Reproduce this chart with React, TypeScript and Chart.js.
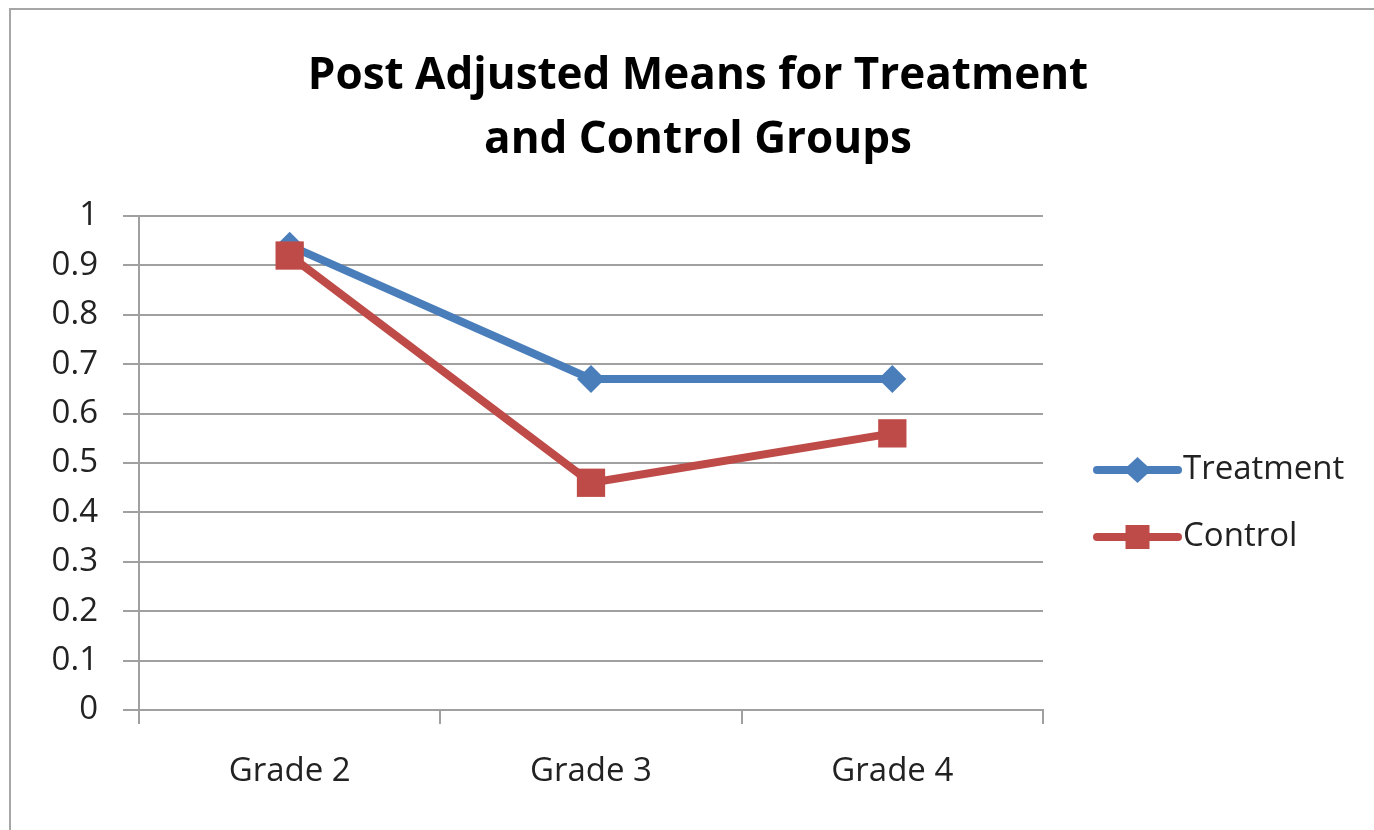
import React, { useEffect, useRef } from 'react';
import { Chart, registerables } from 'chart.js';

Chart.register(...registerables);

const categories = ['Grade 2', 'Grade 3', 'Grade 4'];
const treatmentValues = [0.94, 0.67, 0.67];
const controlValues = [0.92, 0.46, 0.56];
const seriesNames = ['Treatment', 'Control'];
const titleLines = ['Post Adjusted Means for Treatment', 'and Control Groups'];

const BLUE = '#4A7EBB';
const RED = '#BE4B48';
const GRID = '#A0A0A0';
const TEXT = '#222222';
const FONT = '"Open Sans", sans-serif';

const framePlugin = {
  id: 'frame',
  beforeDraw(chart: any) {
    const ctx = chart.ctx;
    ctx.save();
    ctx.fillStyle = '#ffffff';
    ctx.fillRect(0, 0, chart.width, chart.height);
    ctx.strokeStyle = '#A6A6A6';
    ctx.lineWidth = 2;
    ctx.beginPath();
    ctx.moveTo(10, chart.height);
    ctx.lineTo(10, 9);
    ctx.lineTo(chart.width, 9);
    ctx.stroke();
    ctx.restore();
  },
};

const titlePlugin = {
  id: 'customTitle',
  afterDraw(chart: any) {
    const ctx = chart.ctx;
    ctx.save();
    ctx.fillStyle = '#000000';
    ctx.font = `bold 44px ${FONT}`;
    ctx.textAlign = 'center';
    ctx.textBaseline = 'alphabetic';
    const cx = 698;
    titleLines.forEach((t, i) => ctx.fillText(t, cx, 89 + i * 64));
    ctx.restore();
  },
};

const legendPlugin = {
  id: 'customLegend',
  afterDraw(chart: any) {
    const ctx = chart.ctx;
    const area = chart.chartArea;
    const x0 = area.right + 54;
    const x1 = x0 + 81;
    const mx = (x0 + x1) / 2;
    const items = [
      { name: seriesNames[0], color: BLUE, style: 'diamond', y: 470 },
      { name: seriesNames[1], color: RED, style: 'square', y: 537 },
    ];
    ctx.save();
    items.forEach((it) => {
      ctx.strokeStyle = it.color;
      ctx.fillStyle = it.color;
      ctx.lineWidth = 8;
      ctx.lineCap = 'round';
      ctx.beginPath();
      ctx.moveTo(x0, it.y);
      ctx.lineTo(x1, it.y);
      ctx.stroke();
      ctx.beginPath();
      if (it.style === 'diamond') {
        ctx.moveTo(mx - 14, it.y);
        ctx.lineTo(mx, it.y - 13);
        ctx.lineTo(mx + 14, it.y);
        ctx.lineTo(mx, it.y + 13);
        ctx.closePath();
      } else {
        ctx.rect(mx - 12, it.y - 12, 24, 24);
      }
      ctx.fill();
      ctx.fillStyle = TEXT;
      ctx.font = `33px ${FONT}`;
      ctx.textAlign = 'left';
      ctx.textBaseline = 'middle';
      ctx.fillText(it.name, x1 + 5, it.y);
    });
    ctx.restore();
  },
};

export default function App() {
  const canvasRef = useRef<HTMLCanvasElement | null>(null);

  useEffect(() => {
    if (!canvasRef.current) return;
    const chart = new Chart(canvasRef.current, {
      type: 'line',
      data: {
        labels: categories,
        datasets: [
          {
            label: seriesNames[0],
            data: treatmentValues,
            borderColor: BLUE,
            backgroundColor: BLUE,
            borderWidth: 8,
            pointStyle: 'rectRot',
            pointRadius: 14,
            pointHoverRadius: 14,
            pointBorderWidth: 0,
            tension: 0,
            order: 1,
          },
          {
            label: seriesNames[1],
            data: controlValues,
            borderColor: RED,
            backgroundColor: RED,
            borderWidth: 8,
            pointStyle: 'rect',
            pointRadius: 20,
            pointHoverRadius: 20,
            pointBorderWidth: 0,
            tension: 0,
            order: 0,
          },
        ],
      },
      options: {
        responsive: false,
        animation: false,
        layout: { padding: { top: 216, right: 331, left: 0, bottom: 0 } },
        plugins: {
          legend: { display: false },
          title: { display: false },
          tooltip: { enabled: false },
        },
        scales: {
          x: {
            type: 'category',
            offset: true,
            grid: {
              offset: true,
              drawOnChartArea: false,
              drawTicks: true,
              tickLength: 14,
              color: GRID,
              lineWidth: 2,
            },
            border: { display: true, color: GRID, width: 2 },
            ticks: {
              color: TEXT,
              font: { family: FONT, size: 33 },
              padding: 28,
              maxRotation: 0,
            },
            afterFit(scale: any) {
              scale.height = 120;
            },
          },
          y: {
            min: 0,
            max: 1,
            ticks: {
              stepSize: 0.1,
              color: TEXT,
              font: { family: FONT, size: 33 },
              padding: 25,
              callback: (v: any) => String(Number(Number(v).toFixed(1))),
            },
            grid: {
              color: GRID,
              lineWidth: 2,
              drawTicks: true,
              tickLength: 16,
            },
            border: { display: true, color: GRID, width: 2 },
            afterFit(scale: any) {
              scale.width = 139;
            },
          },
        },
      },
      plugins: [framePlugin, titlePlugin, legendPlugin],
    });
    return () => chart.destroy();
  }, []);

  return (
    <div style={{ position: 'fixed', left: 0, top: 0, width: 1374, height: 830, background: '#fff' }}>
      <canvas ref={canvasRef} width={1374} height={830} style={{ display: 'block', width: 1374, height: 830 }} />
    </div>
  );
}
